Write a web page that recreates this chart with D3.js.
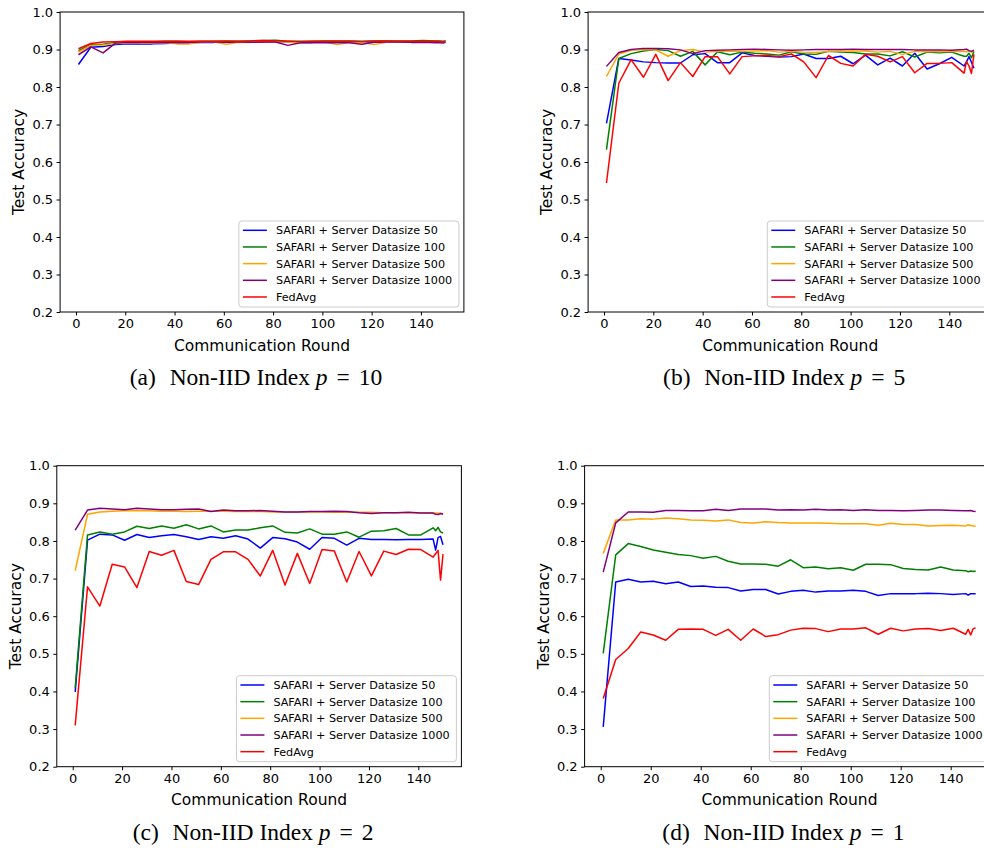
<!DOCTYPE html>
<html>
<head>
<meta charset="utf-8">
<script src="https://cdn.jsdelivr.net/npm/d3@7"></script>
<style>
  body { margin: 0; background: #fff; }
  text { font-family: "DejaVu Sans", sans-serif; fill: #000; }
  .caption { font-family: "Liberation Serif", "Times New Roman", serif; }
</style>
</head>
<body>
<svg id="chart" width="984" height="848"></svg>
<script>
// ----- Data ----------------------------------------------------------------
const rounds = [1, 6, 11, 16, 21, 26, 31, 36, 41, 46, 51, 56, 61, 66, 71, 76, 81, 86, 91, 96,
    101, 106, 111, 116, 121, 126, 131, 136, 141, 146, 147, 148, 149, 150];

const seriesNames = [
    "SAFARI + Server Datasize 50",
    "SAFARI + Server Datasize 100",
    "SAFARI + Server Datasize 500",
    "SAFARI + Server Datasize 1000",
    "FedAvg"
];

const yTicks = [0.2, 0.3, 0.4, 0.5, 0.6, 0.7, 0.8, 0.9, 1.0];
const xTicks = [0, 20, 40, 60, 80, 100, 120, 140];

// (a) p = 10
const p10_sd50 = [.860, .906, .908, .913, .915, .915, .915, .916, .917, .918, .919, .919, .920, .919, .920, .920, .921, .921, .919, .919, .920, .920, .919, .920, .920, .920, .920, .920, .921, .920, .920, .920, .920, .921];
const p10_sd100 = [.897, .913, .914, .919, .921, .921, .921, .922, .922, .921, .922, .922, .923, .922, .923, .924, .925, .922, .922, .922, .923, .923, .923, .922, .923, .923, .923, .923, .924, .923, .923, .923, .922, .923];
const p10_sd500 = [.893, .911, .912, .916, .918, .917, .917, .918, .915, .915, .919, .920, .914, .919, .919, .921, .921, .920, .918, .919, .920, .913, .919, .919, .913, .919, .920, .920, .921, .920, .920, .920, .920, .921];
const p10_sd1000 = [.886, .907, .891, .917, .919, .919, .919, .919, .919, .919, .920, .920, .920, .920, .919, .920, .920, .911, .918, .918, .918, .918, .918, .914, .919, .920, .920, .919, .919, .918, .918, .918, .917, .919];
const p10_fedavg = [.902, .916, .920, .921, .922, .922, .922, .922, .922, .922, .922, .922, .922, .922, .923, .924, .923, .922, .921, .922, .922, .922, .922, .921, .923, .923, .922, .922, .922, .922, .922, .921, .921, .923];

// (b) p = 5
const p5_sd50 = [.703, .876, .872, .867, .865, .864, .864, .886, .889, .865, .865, .891, .884, .882, .880, .881, .888, .876, .876, .882, .862, .885, .859, .877, .856, .890, .848, .862, .879, .856, .867, .881, .866, .850];
const p5_sd100 = [.633, .876, .889, .896, .900, .897, .882, .895, .859, .894, .886, .893, .890, .888, .885, .894, .888, .887, .895, .893, .892, .888, .888, .883, .894, .880, .893, .891, .893, .882, .882, .890, .878, .895];
const p5_sd500 = [.828, .888, .898, .900, .899, .882, .897, .900, .893, .895, .896, .895, .896, .897, .893, .895, .893, .892, .895, .896, .896, .896, .893, .895, .887, .895, .894, .895, .895, .895, .894, .896, .893, .896];
const p5_sd1000 = [.855, .892, .900, .903, .903, .902, .899, .889, .897, .898, .899, .900, .901, .900, .899, .898, .899, .900, .900, .900, .901, .900, .900, .900, .900, .899, .899, .899, .898, .900, .901, .897, .895, .898];
const p5_fedavg = [.544, .810, .873, .826, .887, .817, .865, .828, .881, .881, .835, .881, .883, .884, .881, .888, .867, .825, .884, .863, .856, .887, .882, .867, .881, .838, .863, .863, .865, .837, .868, .856, .836, .887];

// (c) p = 2
const p2_sd50 = [.399, .802, .818, .816, .802, .817, .809, .814, .817, .811, .804, .811, .807, .814, .805, .781, .809, .806, .797, .778, .809, .807, .789, .807, .804, .804, .803, .804, .804, .805, .776, .809, .812, .790];
const p2_sd100 = [.410, .816, .824, .818, .824, .839, .833, .840, .834, .843, .832, .840, .824, .829, .829, .835, .840, .823, .821, .832, .818, .818, .824, .810, .826, .827, .833, .816, .816, .835, .827, .836, .824, .821];
const p2_sd500 = [.721, .871, .877, .879, .880, .881, .880, .879, .879, .878, .879, .879, .879, .878, .878, .878, .877, .877, .877, .877, .877, .876, .876, .876, .876, .875, .875, .875, .874, .874, .874, .874, .873, .873];
const p2_sd1000 = [.829, .882, .887, .885, .883, .887, .885, .883, .883, .884, .885, .878, .882, .880, .880, .881, .879, .877, .877, .878, .878, .879, .878, .875, .873, .875, .875, .876, .874, .874, .871, .870, .873, .871];
const p2_fedavg = [.310, .678, .627, .738, .731, .676, .772, .762, .775, .692, .684, .751, .771, .771, .751, .707, .775, .683, .767, .687, .777, .773, .691, .772, .707, .773, .764, .778, .777, .757, .766, .775, .696, .765];

// (d) p = 1
const p1_sd50 = [.306, .691, .698, .691, .693, .686, .691, .679, .680, .677, .676, .667, .671, .671, .659, .666, .669, .664, .667, .667, .669, .666, .655, .660, .660, .660, .661, .660, .658, .660, .656, .660, .660, .660];
const p1_sd100 = [.501, .763, .793, .785, .776, .770, .764, .761, .754, .759, .746, .739, .739, .738, .733, .750, .729, .731, .726, .729, .722, .738, .738, .737, .727, .724, .723, .731, .723, .721, .718, .720, .719, .720];
const p1_sd500 = [.767, .856, .856, .859, .858, .861, .859, .856, .855, .853, .856, .849, .848, .851, .849, .848, .848, .848, .847, .846, .846, .846, .842, .847, .844, .844, .840, .841, .842, .840, .843, .841, .840, .839];
const p1_sd1000 = [.717, .848, .877, .877, .876, .881, .881, .880, .880, .884, .881, .885, .885, .885, .882, .883, .882, .884, .882, .883, .881, .883, .881, .881, .880, .881, .882, .882, .881, .880, .880, .881, .879, .878];
const p1_fedavg = [.381, .485, .514, .558, .550, .536, .565, .566, .565, .549, .565, .536, .566, .546, .551, .563, .568, .567, .559, .566, .566, .569, .552, .568, .561, .566, .567, .562, .568, .552, .565, .550, .567, .569];

// ----- Styles / layout --------------------------------------------------------
const colors = ["#0000ff", "#008000", "#ffa500", "#800080", "#ff0000"];

const panels = [
    { tag: "a", p: "10", series: [p10_sd50, p10_sd100, p10_sd500, p10_sd1000, p10_fedavg], left: 60.1, right: 463.9, top: 12, bottom: 312 },
    { tag: "b", p: "5", series: [p5_sd50, p5_sd100, p5_sd500, p5_sd1000, p5_fedavg], left: 588.1, right: 992.3, top: 12, bottom: 312 },
    { tag: "c", p: "2", series: [p2_sd50, p2_sd100, p2_sd500, p2_sd1000, p2_fedavg], left: 56.8, right: 461.4, top: 465.7, bottom: 766.7 },
    { tag: "d", p: "1", series: [p1_sd50, p1_sd100, p1_sd500, p1_sd1000, p1_fedavg], left: 584.6, right: 994.3, top: 465.7, bottom: 766.7 }
];

const svg = d3.select("#chart");
svg.append("rect").attr("width", 984).attr("height", 848).attr("fill", "#fff");

// matplotlib default 5% margins around x in [1, 150]
const xDomain = [1 - 0.05 * 149, 150 + 0.05 * 149];

function drawPanel(cfg) {
    const g = svg.append("g");
    const x = d3.scaleLinear().domain(xDomain).range([cfg.left, cfg.right]);
    const y = d3.scaleLinear().domain([0.2, 1.0]).range([cfg.bottom, cfg.top]);

    // lines
    const line = d3.line().x((d, i) => x(rounds[i])).y((d) => y(d));
    cfg.series.forEach((vals, i) => {
        g.append("path")
            .attr("d", line(vals))
            .attr("fill", "none")
            .attr("stroke", colors[i])
            .attr("stroke-width", 1.5)
            .attr("stroke-linejoin", "round");
    });

    // frame
    g.append("rect")
        .attr("x", cfg.left).attr("y", cfg.top)
        .attr("width", cfg.right - cfg.left).attr("height", cfg.bottom - cfg.top)
        .attr("fill", "none").attr("stroke", "#000").attr("stroke-width", 1);

    // axes
    const xAxis = d3.axisBottom(x).tickValues(xTicks).tickSize(3.5).tickPadding(3.5).tickFormat(d3.format("d"));
    const yAxis = d3.axisLeft(y).tickValues(yTicks).tickSize(3.5).tickPadding(3.5).tickFormat(d3.format(".1f"));
    const gx = g.append("g").attr("transform", `translate(0,${cfg.bottom})`).call(xAxis);
    const gy = g.append("g").attr("transform", `translate(${cfg.left},0)`).call(yAxis);
    [gx, gy].forEach((ax) => {
        ax.select(".domain").remove();
        ax.selectAll("line").attr("stroke", "#000");
        ax.selectAll("text").attr("font-size", 13).attr("font-family", "DejaVu Sans").attr("fill", "#000");
    });

    // axis labels
    g.append("text")
        .attr("x", (cfg.left + cfg.right) / 2).attr("y", cfg.bottom + 38.5)
        .attr("text-anchor", "middle").attr("font-size", 15.5)
        .text("Communication Round");
    g.append("text")
        .attr("transform", `translate(${cfg.left - 36},${(cfg.top + cfg.bottom) / 2}) rotate(-90)`)
        .attr("text-anchor", "middle").attr("font-size", 15.5)
        .text("Test Accuracy");

    // legend (lower right)
    const lw = 220, lh = 86;
    const lx = cfg.right - 5 - lw, ly = cfg.bottom - 5 - lh;
    const leg = g.append("g").attr("transform", `translate(${lx},${ly})`);
    leg.append("rect").attr("width", lw).attr("height", lh).attr("rx", 3)
        .attr("fill", "#fff").attr("fill-opacity", 0.8).attr("stroke", "#cccccc");
    seriesNames.forEach((name, i) => {
        const yy = 9.3 + i * 16.67;
        leg.append("line").attr("x1", 4).attr("x2", 28).attr("y1", yy).attr("y2", yy)
            .attr("stroke", colors[i]).attr("stroke-width", 1.5);
        leg.append("text").attr("x", 37).attr("y", yy + 4).attr("font-size", 11.2).text(name);
    });

    // caption
    const cap = svg.append("text").attr("class", "caption")
        .attr("x", (cfg.left + cfg.right) / 2 - 6)
        .attr("y", cfg.bottom + 73)
        .attr("text-anchor", "middle")
        .attr("font-size", 23.5);
    cap.append("tspan").text(`(${cfg.tag})`);
    cap.append("tspan").attr("dx", 8).text(" Non-IID Index ");
    cap.append("tspan").attr("font-style", "italic").text("p");
    cap.append("tspan").attr("dx", 9).text("=");
    cap.append("tspan").attr("dx", 9).text(cfg.p);
}

panels.forEach(drawPanel);
</script>
</body>
</html>
